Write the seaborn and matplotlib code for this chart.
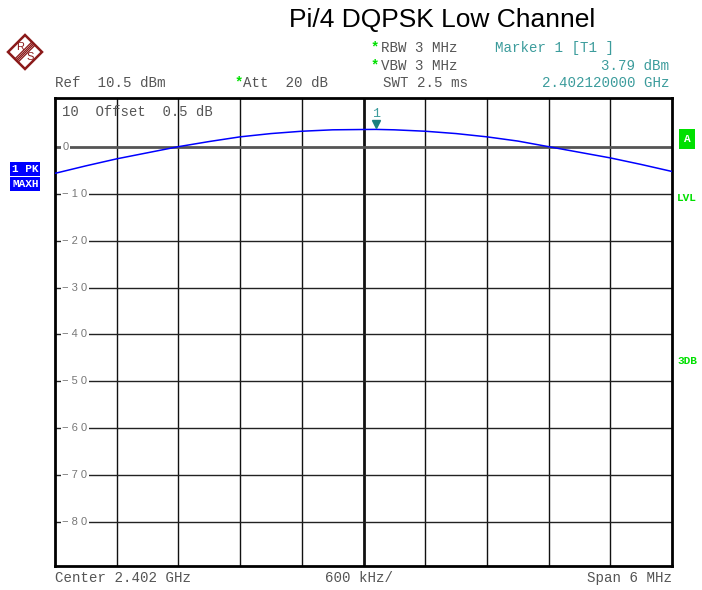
import numpy as np
import pandas as pd
import matplotlib
matplotlib.use("Agg")
import matplotlib.pyplot as plt
import matplotlib.patches as mpatches
import matplotlib.transforms as mtransforms
import seaborn as sns

# Spectrum trace (offset from centre in MHz, level in dBm)
freq_offset_mhz = [-3.0, -2.7, -2.4, -2.1, -1.8, -1.5, -1.2, -0.9, -0.6, -0.3, 0.0,
                   0.12, 0.3, 0.6, 0.9, 1.2, 1.5, 1.8, 2.1, 2.4, 2.7, 3.0]
level_dbm = [-5.6, -4.0, -2.5, -1.2, 0.1, 1.2, 2.2, 2.9, 3.4, 3.7, 3.77,
             3.79, 3.7, 3.4, 2.9, 2.2, 1.3, 0.1, -1.1, -2.3, -3.7, -5.2]

# Analyzer settings
CENTER_GHZ = 2.402
SPAN_MHZ = 6
REF_LEVEL = 10.5
DB_PER_DIV = 10
MARKER_FREQ_GHZ = 2.402120000
MARKER_LEVEL = 3.79
ytick_values = [0, -10, -20, -30, -40, -50, -60, -70, -80]
ytick_labels = ["0", "−10", "−20", "−30", "−40", "−50", "−60", "−70", "−80"]

MONO = "Liberation Mono"
GREY_TXT = "#555555"
TEAL = "#3c9c9c"
GREEN = "#00e000"
LOGO_RED = "#8b1a1a"

sns.set_style("white")
plt.rcParams["font.family"] = ["Liberation Sans", "DejaVu Sans"]

df = pd.DataFrame({"freq": freq_offset_mhz, "level": level_dbm})

fig = plt.figure(figsize=(7.02, 5.90), dpi=100)
ax = fig.add_axes([55 / 702, 1 - 566 / 590, 617 / 702, 468 / 590])

half = SPAN_MHZ / 2
ax.set_xlim(-half, half)
ax.set_ylim(REF_LEVEL - 10 * DB_PER_DIV, REF_LEVEL)

# grid
for xv in np.linspace(-half, half, 11)[1:-1]:
    lw = 2.0 if abs(xv) < 1e-9 else 1.0
    ax.axvline(xv, color="#111111", lw=lw, zorder=1)
for yv in ytick_values:
    if yv == 0:
        ax.axhline(yv, color="#555555", lw=2.0, zorder=1)
    else:
        ax.axhline(yv, color="#222222", lw=1.0, zorder=1)

sns.lineplot(data=df, x="freq", y="level", ax=ax, color="#0000ff", lw=1.1,
             zorder=3, legend=False)

ax.set_xticks([])
ax.set_yticks([])
ax.set_xlabel("")
ax.set_ylabel("")
for s in ax.spines.values():
    s.set_linewidth(2.0)
    s.set_color("black")

# y labels inside the plot, interrupting the gridlines
for yv, lab in zip(ytick_values, ytick_labels):
    ax.text(0.012, yv, " ".join(lab), transform=ax.get_yaxis_transform(),
            ha="left", va="center", fontsize=8, color="#777777", zorder=4,
            bbox=dict(facecolor="white", edgecolor="none", pad=1.2))

ax.text(0.011, 0.985, "10  Offset  0.5 dB", transform=ax.transAxes,
        ha="left", va="top", fontsize=10, family=MONO, color=GREY_TXT, zorder=4)

# marker
mx = (MARKER_FREQ_GHZ - CENTER_GHZ) * 1000
ax.plot([mx], [MARKER_LEVEL], marker="v", ms=6, color="#1a8080", ls="none",
        zorder=5, transform=ax.transData + mtransforms.ScaledTranslation(0, 4 / 72, fig.dpi_scale_trans))
ax.annotate("1", (mx, MARKER_LEVEL), xytext=(0, 7), textcoords="offset points",
            ha="center", va="bottom", fontsize=9.5, family=MONO, color=TEAL)

# header texts
fig.text(442 / 702, 1 - 20 / 590, "Pi/4 DQPSK Low Channel", ha="center", va="center",
         fontsize=19, color="black")

def ftxt(x, y, s, **kw):
    kw.setdefault("family", MONO)
    kw.setdefault("fontsize", 10.2)
    kw.setdefault("color", GREY_TXT)
    kw.setdefault("va", "center")
    fig.text(x / 702, 1 - y / 590, s, **kw)

ftxt(55, 83, "Ref  10.5 dBm")
ftxt(235, 82, "*", color=GREEN, fontsize=10, weight="bold")
ftxt(243, 83, "Att  20 dB")
ftxt(371, 47, "*", color=GREEN, fontsize=10, weight="bold")
ftxt(381, 48, "RBW 3 MHz")
ftxt(371, 65, "*", color=GREEN, fontsize=10, weight="bold")
ftxt(381, 66, "VBW 3 MHz")
ftxt(383, 83, "SWT 2.5 ms")
ftxt(495, 48, "Marker 1 [T1 ]", color=TEAL)
ftxt(669, 66, f"{MARKER_LEVEL:.2f} dBm", color=TEAL, ha="right")
ftxt(669, 83, f"{MARKER_FREQ_GHZ:.9f} GHz", color=TEAL, ha="right")

# footer
ftxt(55, 578, f"Center {CENTER_GHZ} GHz")
ftxt(359, 578, f"{SPAN_MHZ * 100:.0f} kHz/", ha="center")
ftxt(672, 578, f"Span {SPAN_MHZ} MHz", ha="right")

# left trace info boxes
ftxt(12, 169, "1 PK", color="white", fontsize=8, weight="bold",
     bbox=dict(facecolor="#0000ff", edgecolor="none", pad=1.2))
ftxt(12, 184, "MAXH", color="white", fontsize=8, weight="bold",
     bbox=dict(facecolor="#0000ff", edgecolor="none", pad=1.2))

# right side annotations
ftxt(687, 139, "A", color="white", fontsize=8, weight="bold", ha="center",
     bbox=dict(facecolor=GREEN, edgecolor="none", boxstyle="square,pad=0.45"))
ftxt(677, 198, "LVL", color=GREEN, fontsize=8, weight="bold")
ftxt(677, 361, "3DB", color=GREEN, fontsize=8, weight="bold")

# R&S logo
cx, cy, r = 25 / 702, 1 - 52 / 590, 17
w = r / 702
h = r / 590
diamond = mpatches.Polygon([(cx, cy + h), (cx + w, cy), (cx, cy - h), (cx - w, cy)],
                           closed=True, fill=False, edgecolor=LOGO_RED, lw=1.8,
                           transform=fig.transFigure)
fig.patches.append(diamond)
for d in (-1.6, -0.5, 0.5, 1.6):
    fig.lines.append(plt.Line2D([cx - 0.5 * w + d / 702, cx + 0.5 * w + d / 702],
                                [cy - 0.5 * h - d / 590, cy + 0.5 * h - d / 590],
                                color=LOGO_RED, lw=0.9, transform=fig.transFigure))
fig.text(cx - 0.3 * w, cy + 0.32 * h, "R", ha="center", va="center", fontsize=8,
         color=LOGO_RED)
fig.text(cx + 0.32 * w, cy - 0.3 * h, "S", ha="center", va="center", fontsize=8,
         color=LOGO_RED)

fig.savefig("out.png", dpi=100)
